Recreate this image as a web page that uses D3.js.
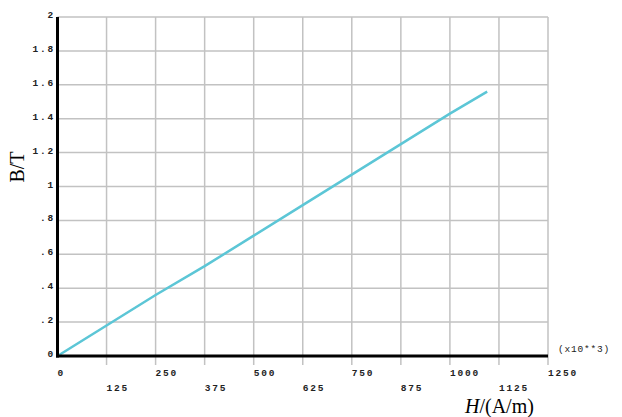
<!DOCTYPE html>
<html><head><meta charset="utf-8">
<script src="https://cdn.jsdelivr.net/npm/d3@7"></script>
<style>body{margin:0;background:#fff}svg{display:block}</style>
</head><body>
<script>
const H = [0, 125, 250, 375, 500, 625, 750, 875, 1000, 1095];
const B = [0, 0.18, 0.36, 0.53, 0.71, 0.89, 1.07, 1.25, 1.43, 1.56];
const xTicks = [0, 125, 250, 375, 500, 625, 750, 875, 1000, 1125, 1250];
const yTicks = [0, 0.2, 0.4, 0.6, 0.8, 1, 1.2, 1.4, 1.6, 1.8, 2];
const yTickLabels = ["0", ".2", ".4", ".6", ".8", "1", "1.2", "1.4", "1.6", "1.8", "2"];

const W = 622, Ht = 417;
const svg = d3.select("body").append("svg").attr("width", W).attr("height", Ht);
const x = d3.scaleLinear().domain([0, 1250]).range([57.5, 548]);
const y = d3.scaleLinear().domain([0, 2]).range([356, 17]);

const grid = svg.append("g").attr("stroke", "#c2c2c2").attr("stroke-width", 1.5);
grid.selectAll(".v").data(xTicks.slice(1)).join("line")
  .attr("x1", d => x(d)).attr("x2", d => x(d)).attr("y1", y(2)).attr("y2", y(0) + 9);
grid.selectAll(".h").data(yTicks.slice(1)).join("line")
  .attr("x1", x(0)).attr("x2", x(1250)).attr("y1", d => y(d)).attr("y2", d => y(d));

const tickFont = "'Liberation Mono', 'DejaVu Sans Mono', monospace";
svg.append("g").selectAll("text").data(xTicks).join("text")
  .attr("x", d => x(d)).attr("y", (d, i) => i % 2 === 0 ? 376 : 391)
  .attr("text-anchor", "start")
  .attr("font-family", tickFont).attr("font-size", 9.5).attr("font-weight", "bold")
  .attr("letter-spacing", 1.8).attr("fill", "#222")
  .text(d => d);
svg.append("g").selectAll("text").data(yTicks).join("text")
  .attr("x", 55).attr("y", d => y(d) + 1)
  .attr("text-anchor", "end")
  .attr("font-family", tickFont).attr("font-size", 9.5).attr("font-weight", "bold")
  .attr("letter-spacing", 1.8).attr("fill", "#222")
  .text((d, i) => yTickLabels[i]);

svg.append("text").attr("x", 558).attr("y", 352)
  .attr("font-family", tickFont).attr("font-size", 9.5).attr("letter-spacing", 0.8).attr("fill", "#222")
  .text("(x10**3)");

// line
const line = d3.line().x((d, i) => x(H[i])).y(d => y(d));
svg.append("path").datum(B).attr("d", line)
  .attr("fill", "none").attr("stroke", "#5cc6d6").attr("stroke-width", 2.5);

// axes
svg.append("line").attr("x1", x(0)).attr("x2", x(0)).attr("y1", y(2)).attr("y2", y(0) + 1.5)
  .attr("stroke", "#000").attr("stroke-width", 3);
svg.append("line").attr("x1", x(0) - 1.5).attr("x2", x(1250)).attr("y1", y(0)).attr("y2", y(0))
  .attr("stroke", "#000").attr("stroke-width", 3);

// titles
const tf = "'Liberation Serif', 'Times New Roman', serif";
const xt = svg.append("text").attr("x", 465).attr("y", 413)
  .attr("font-family", tf).attr("font-size", 20).attr("fill", "#000");
xt.append("tspan").attr("font-style", "italic").text("H");
xt.append("tspan").text("/(A/m)");
svg.append("text").attr("transform", "translate(24,167) rotate(-90)")
  .attr("text-anchor", "middle")
  .attr("font-family", tf).attr("font-size", 20).attr("fill", "#000")
  .text("B/T");
</script>
</body></html>
